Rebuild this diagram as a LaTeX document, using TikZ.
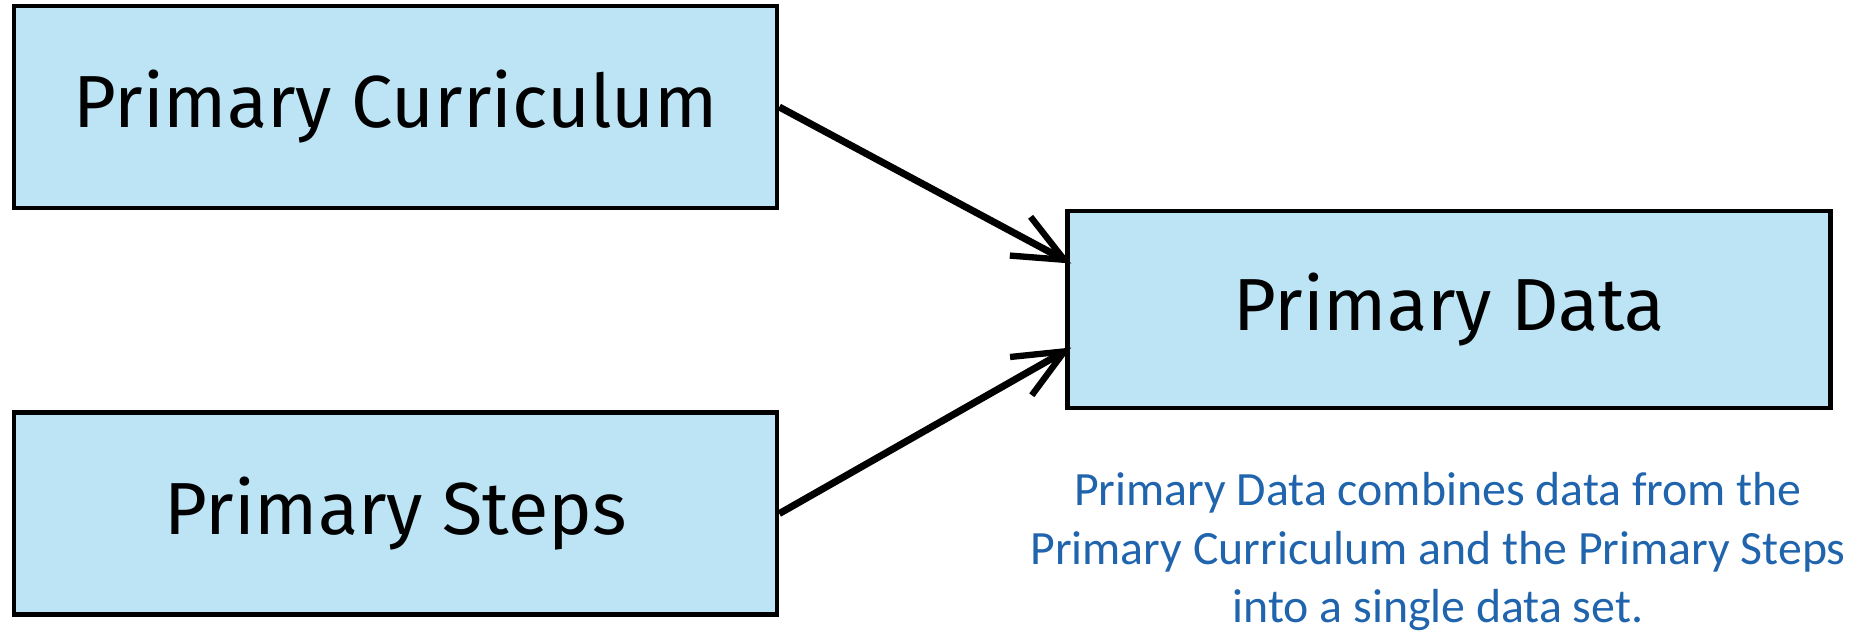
\documentclass[tikz,border=0pt]{standalone}
\usepackage{fontspec}
\setmainfont{Fira Sans}
\newfontfamily\notefont{Carlito}
\usetikzlibrary{arrows.meta,positioning}
\definecolor{boxblue}{RGB}{188,228,245}
\definecolor{noteblue}{RGB}{31,100,173}
\begin{document}
\begin{tikzpicture}[
    databox/.style={draw=black, line width=1.3pt, fill=boxblue,
      minimum width=7.63cm, minimum height=2.02cm, inner sep=0pt,
      font=\fontsize{21}{25}\selectfont},
    feed/.style={line width=2pt, -{Straight Barb[length=5mm,width=4.4mm,line width=1.8pt]}},
    note/.style={text=noteblue, align=center, inner sep=1pt,
      font=\notefont\fontsize{13.6}{16.6}\selectfont}
  ]
  \useasboundingbox (0,0) rectangle (18.55,-6.34);
  \node[databox] (curriculum) at (3.955,-1.07) {Primary Curriculum};
  \node[databox, below=2cm of curriculum] (steps) {Primary Steps};
  \node[databox, minimum height=1.97cm] (data) at (14.49,-3.095) {Primary Data};
  \node[note, below=0.58cm of data, xshift=-1.1mm] (data-note)
    {Primary Data combines data from the\\Primary Curriculum and the Primary Steps\\into a single data set.};
  \draw[feed] (curriculum.east) -- ([xshift=0.6mm,yshift=4.6mm]data.west);
  \draw[feed] (steps.east) -- ([xshift=0.6mm,yshift=-3.8mm]data.west);
\end{tikzpicture}
\end{document}
